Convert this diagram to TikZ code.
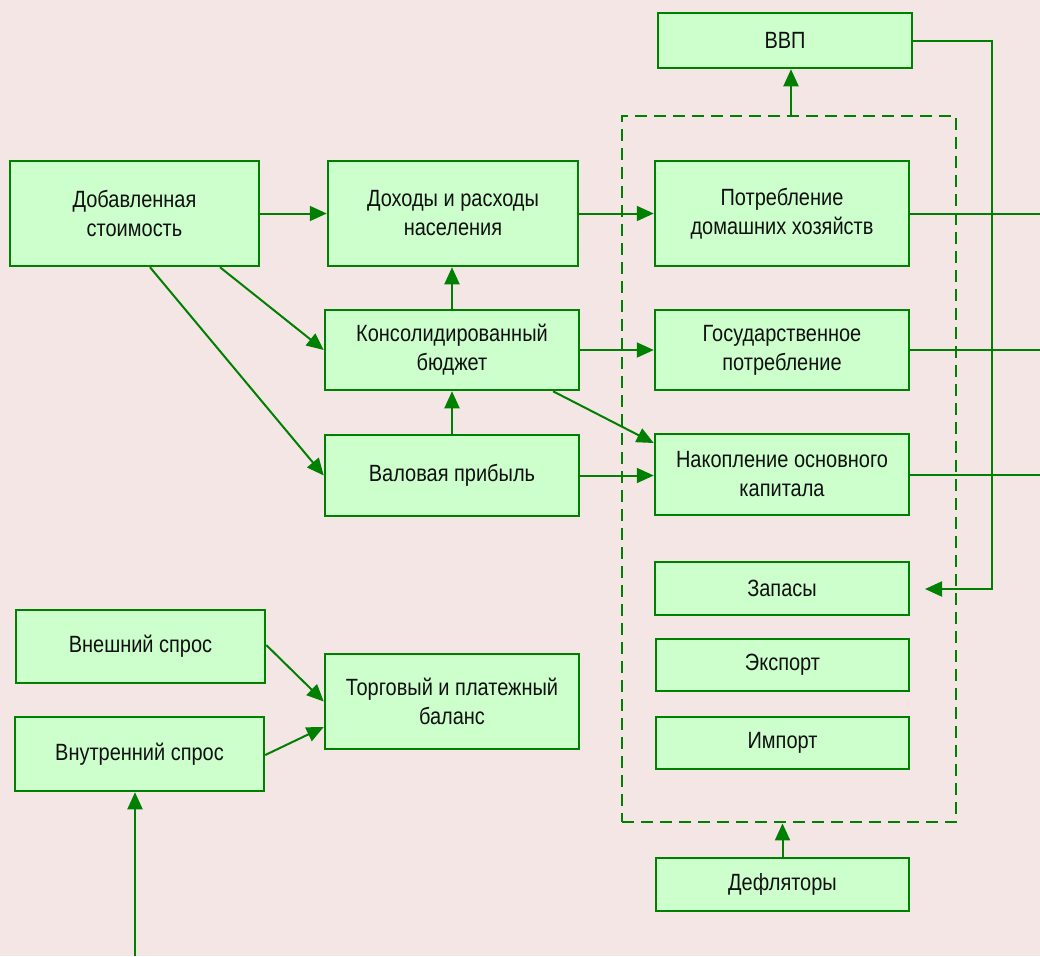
\documentclass[tikz,border=0pt]{standalone}
\usepackage{fontspec}
\setmainfont[FakeStretch=0.85]{Liberation Sans}
\usepackage{xcolor}
\definecolor{bgpink}{RGB}{245,230,230}
\definecolor{boxfill}{RGB}{204,255,204}
\definecolor{darkgreen}{RGB}{0,128,0}
\definecolor{inkblack}{RGB}{17,17,17}
\usetikzlibrary{arrows.meta}

\begin{document}
\begin{tikzpicture}[x=1pt,y=-1pt,
  block/.style={draw=darkgreen, line width=2.5pt, fill=boxfill, text=inkblack,
    align=center, inner sep=0pt, font=\fontsize{23.5}{29}\selectfont},
  arr/.style={draw=darkgreen, line width=2pt, -{Triangle[length=17pt,width=15pt]}},
  wire/.style={draw=darkgreen, line width=2pt}]
\fill[bgpink] (0,0) rectangle (1040,956);
\useasboundingbox (0,0) rectangle (1040,956);
\node[draw=darkgreen, line width=2.8pt, dash pattern=on 12pt off 7pt,
  minimum width=334pt, minimum height=706pt] (grp) at (789,469) {};
\node[block, minimum width=254pt, minimum height=55pt]  (vvp)   at (785,40.5)  {ВВП};
\node[block, minimum width=249pt, minimum height=105pt] (dob)   at (134.5,213.5) {Добавленная\\стоимость};
\node[block, minimum width=250pt, minimum height=105pt] (doh)   at (453,213.5) {Доходы и расходы\\населения};
\node[block, minimum width=254pt, minimum height=105pt] (potr)  at (782,213.5) {Потребление\\домашних хозяйств};
\node[block, minimum width=254pt, minimum height=80pt]  (kons)  at (452,350)   {Консолидированный\\бюджет};
\node[block, minimum width=254pt, minimum height=80pt]  (gos)   at (782,350)   {Государственное\\потребление};
\node[block, minimum width=254pt, minimum height=81pt]  (val)   at (452,475.5) {Валовая прибыль};
\node[block, minimum width=254pt, minimum height=81pt]  (nak)   at (782,474.5) {Накопление основного\\капитала};
\node[block, minimum width=254pt, minimum height=53pt]  (zap)   at (782,588.5) {Запасы};
\node[block, minimum width=253pt, minimum height=52pt]  (exp)   at (782.5,665) {Экспорт};
\node[block, minimum width=253pt, minimum height=52pt]  (imp)   at (782.5,743) {Импорт};
\node[block, minimum width=253pt, minimum height=53pt]  (defl)  at (782.5,884.5) {Дефляторы};
\node[block, minimum width=249pt, minimum height=73pt]  (vnesh) at (140.5,646.5) {Внешний спрос};
\node[block, minimum width=249pt, minimum height=74pt]  (vnutr) at (139.5,754)   {Внутренний спрос};
\node[block, minimum width=254pt, minimum height=95pt]  (torg)  at (452,701.5) {Торговый и платежный\\баланс};
\coordinate (edge)    at (1040,0);
\coordinate (vvpturn) at (992,589);
\coordinate (zapin)   at (925,589);
\coordinate (inp)     at (135,956);
\draw[arr] (dob) -- (doh);
\draw[arr] ([xshift=85.5pt]dob.south) -- (kons.west);
\draw[arr] ([xshift=15.5pt]dob.south) -- (val.west);
\draw[arr] (val) -- (kons);
\draw[arr] (kons) -- (kons.north |- doh.south);
\draw[arr] (doh) -- (potr);
\draw[arr] (kons) -- (gos);
\draw[arr] ([xshift=101pt]kons.south) -- ([yshift=31.5pt]nak.west);
\draw[arr] (val.east) -- (val.east -| nak.west);
\draw[arr] ([xshift=6pt]vvp.south |- grp.north) -- ([xshift=6pt]vvp.south);
\draw[arr] (vvp.east) -| (vvpturn) -- (zapin);
\draw[wire] (potr.east) -- (potr.east -| edge);
\draw[wire] (gos.east) -- (gos.east -| edge);
\draw[wire] (nak.east) -- (nak.east -| edge);
\draw[arr] ([yshift=1.5pt]vnesh.east) -- (torg.west);
\draw[arr] ([yshift=-1pt]vnutr.east) -- ([yshift=-25.5pt]torg.west);
\draw[arr] (inp) -- (inp |- vnutr.south);
\draw[arr] (defl) -- (defl.north |- grp.south);
\end{tikzpicture}
\end{document}
